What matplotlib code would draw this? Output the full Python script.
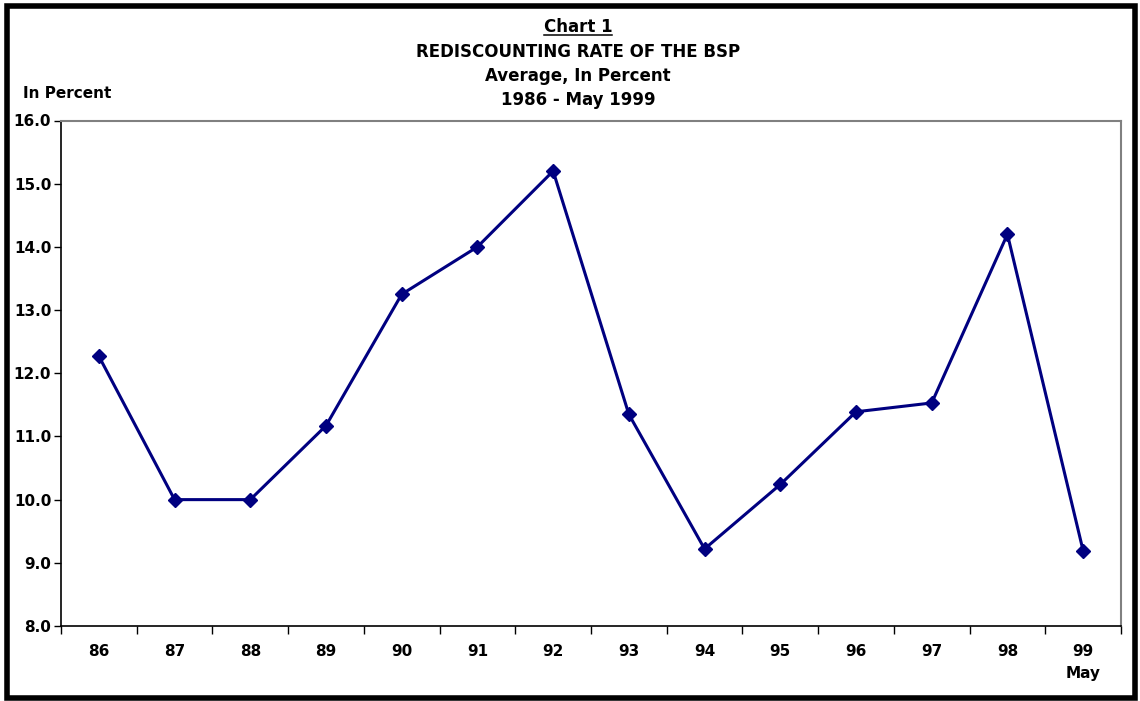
import matplotlib.pyplot as plt
from matplotlib.lines import Line2D
from matplotlib.patches import Rectangle
import numpy as np

years = ["86", "87", "88", "89", "90", "91", "92", "93", "94", "95", "96", "97", "98", "99"]
rates = [12.27, 10.0, 10.0, 11.17, 13.25, 14.0, 15.2, 11.35, 9.22, 10.24, 11.39, 11.53, 14.2, 9.19]
y_ticks = [8.0, 9.0, 10.0, 11.0, 12.0, 13.0, 14.0, 15.0, 16.0]

title_lines = ["REDISCOUNTING RATE OF THE BSP", "Average, In Percent", "1986 - May 1999"]

plt.rcParams["font.family"] = ["DejaVu Sans"]
navy = "#000080"

fig = plt.figure(figsize=(11.4, 7.01), dpi=100)
ax = fig.add_axes([61 / 1140, 1 - 626 / 701, (1121 - 61) / 1140, (626 - 120.5) / 701])

x = np.arange(len(years))
ax.plot(x, rates, color=navy, lw=2.2, marker="D", ms=7, mfc=navy, mec=navy, zorder=3)

ax.set_xlim(-0.5, len(years) - 0.5)
ax.set_ylim(8.0, 16.0)
ax.set_yticks(y_ticks)
ax.set_yticklabels([f"{v:.1f}" for v in y_ticks], fontsize=11, fontweight="bold")

# tick marks between categories, labels centred on each year
ax.set_xticks(np.arange(len(years) + 1) - 0.5)
ax.set_xticklabels([])
ax.set_xticks(x, minor=True)
ax.set_xticklabels(years, minor=True, fontsize=11, fontweight="bold")
ax.tick_params(axis="x", which="major", length=6, width=1, direction="out", color="black")
ax.tick_params(axis="x", which="minor", length=0, pad=13)
ax.tick_params(axis="y", length=5, width=1, direction="out", pad=2)

for side in ["top", "right"]:
    ax.spines[side].set_color("#808080")
    ax.spines[side].set_linewidth(1.5)
for side in ["left", "bottom"]:
    ax.spines[side].set_color("black")
    ax.spines[side].set_linewidth(1.2)

ax.text(x[-1], -0.093, "May", transform=ax.get_xaxis_transform(), ha="center", va="center",
        fontsize=11, fontweight="bold")

fig.text(23 / 1140, 1 - 94 / 701, "In Percent", ha="left", va="center", fontsize=11, fontweight="bold")

cx = 578 / 1140
head = fig.text(cx, 1 - 27 / 701, "Chart 1", ha="center", va="center", fontsize=12, fontweight="bold")
for i, line in enumerate(title_lines):
    fig.text(cx, 1 - (52 + 24 * i) / 701, line, ha="center", va="center", fontsize=12, fontweight="bold")

# underline under "Chart 1"
fig.canvas.draw()
bb = head.get_window_extent().transformed(fig.transFigure.inverted())
fig.add_artist(Line2D([bb.x0, bb.x1], [bb.y0 + 0.002, bb.y0 + 0.002], color="black", lw=1.1,
                      transform=fig.transFigure))

# heavy frame round the figure
fig.add_artist(Rectangle((6.5 / 1140, 3 / 701), 1128 / 1140, 692.5 / 701, fill=False,
                         edgecolor="black", lw=4, transform=fig.transFigure))

fig.savefig("out.png", dpi=100)
